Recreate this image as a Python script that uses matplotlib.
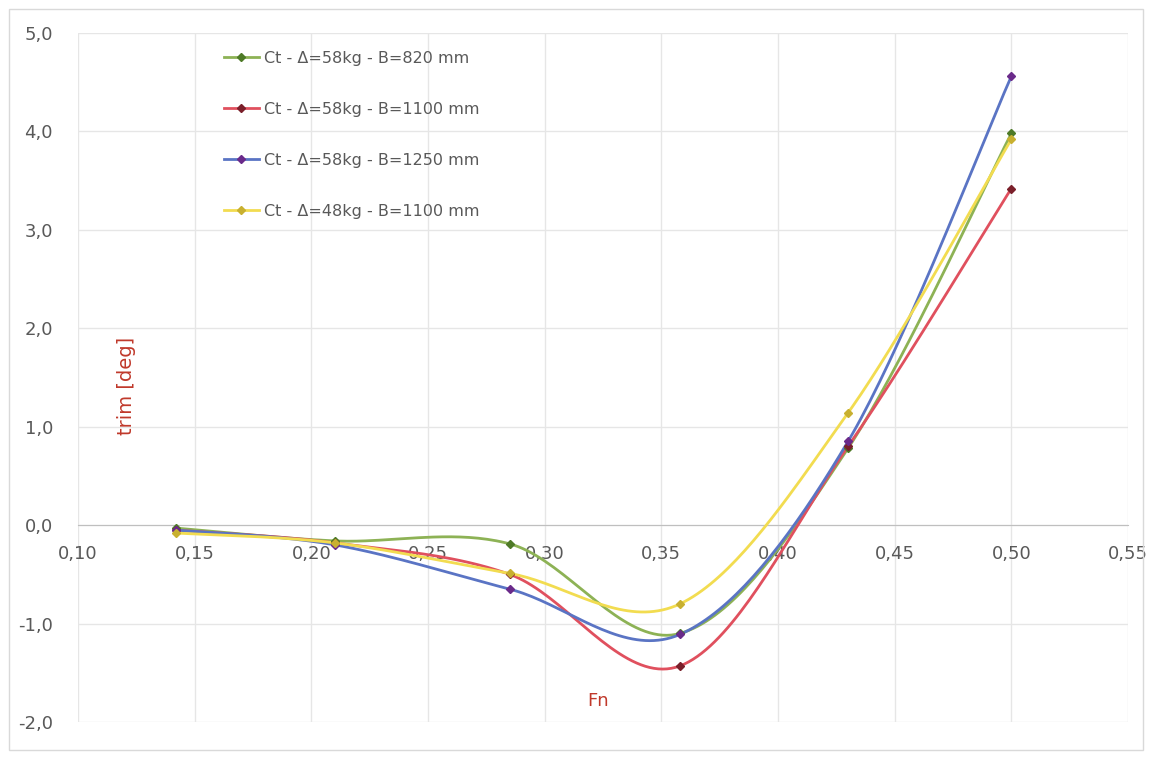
import numpy as np
import matplotlib
matplotlib.use("Agg")
import matplotlib.pyplot as plt
from matplotlib.ticker import FuncFormatter, MultipleLocator

# ---- data ----
fn = [0.142, 0.210, 0.285, 0.358, 0.430, 0.500]
trim_58_820 = [-0.03, -0.16, -0.19, -1.10, 0.78, 3.98]
trim_58_1100 = [-0.05, -0.18, -0.50, -1.43, 0.80, 3.42]
trim_58_1250 = [-0.05, -0.20, -0.65, -1.11, 0.85, 4.56]
trim_48_1100 = [-0.08, -0.18, -0.49, -0.80, 1.14, 3.92]
labels = ["Ct - \u0394=58kg - B=820 mm",
          "Ct - \u0394=58kg - B=1100 mm",
          "Ct - \u0394=58kg - B=1250 mm",
          "Ct - \u0394=48kg - B=1100 mm"]
line_colors = ["#8db255", "#e0505e", "#5a74c4", "#f2dc50"]
marker_colors = ["#4e7a27", "#7a1f2a", "#6a2a8a", "#c8b030"]


def smooth(xs, ys, n=40):
    """Excel-like smoothed line: Catmull-Rom Bezier segments."""
    P = np.column_stack([xs, ys]).astype(float)
    Pe = np.vstack([P[0], P, P[-1]])
    out = []
    t = np.linspace(0, 1, n)[:, None]
    for i in range(len(P) - 1):
        p0, p1, p2, p3 = Pe[i], Pe[i + 1], Pe[i + 2], Pe[i + 3]
        c1 = p1 + (p2 - p0) / 6.0
        c2 = p2 - (p3 - p1) / 6.0
        seg = ((1 - t) ** 3) * p1 + 3 * ((1 - t) ** 2) * t * c1 + 3 * (1 - t) * t ** 2 * c2 + t ** 3 * p2
        out.append(seg if i == 0 else seg[1:])
    out = np.vstack(out)
    return out[:, 0], out[:, 1]


fig = plt.figure(figsize=(11.52, 7.58), dpi=100)
ax = fig.add_axes([78 / 1152, 1 - 722 / 758, (1128 - 78) / 1152, (722 - 33) / 758])

series = [trim_58_820, trim_58_1100, trim_58_1250, trim_48_1100]
for ys, lab, lc, mc in zip(series, labels, line_colors, marker_colors):
    sx, sy = smooth(fn, ys)
    ax.plot(sx, sy, color=lc, lw=2.0, zorder=3)
    ax.plot(fn, ys, ls="none", marker="D", ms=4.5, color=mc, zorder=4)
    ax.plot([], [], color=lc, lw=2.0, marker="D", ms=4.5, mfc=mc, mec=mc, label=lab)

ax.set_xlim(0.10, 0.55)
ax.set_ylim(-2.0, 5.0)
ax.xaxis.set_major_locator(MultipleLocator(0.05))
ax.yaxis.set_major_locator(MultipleLocator(1.0))
ax.xaxis.set_major_formatter(FuncFormatter(lambda v, p: f"{v:.2f}".replace(".", ",")))
ax.yaxis.set_major_formatter(FuncFormatter(lambda v, p: f"{v:.1f}".replace(".", ",")))
ax.grid(True, color="#e6e6e6", lw=1.0, zorder=0)

for s in ["top", "right", "left"]:
    ax.spines[s].set_visible(False)
ax.spines["bottom"].set_position(("data", 0))
ax.spines["bottom"].set_color("#bfbfbf")
ax.tick_params(axis="both", length=0, colors="#595959", labelsize=13)
ax.tick_params(axis="y", pad=18)
ax.tick_params(axis="x", pad=14)

ax.text(0.121, 1.41, "trim [deg]", rotation=90,
        color="#c0392b", fontsize=14, ha="center", va="center")
ax.text(0.323, -1.79, "Fn", color="#c0392b", fontsize=13, ha="center", va="center")

leg = ax.legend(loc="upper left", bbox_to_anchor=(0.125, 0.995), frameon=False,
                fontsize=11.5, labelspacing=2.25, handlelength=2.2, handletextpad=0.3)
for t in leg.get_texts():
    t.set_color("#595959")

fig.patches.append(plt.Rectangle((0.008, 0.01), 0.984, 0.978, transform=fig.transFigure,
                                 fill=False, ec="#d9d9d9", lw=1.0))
fig.savefig("out.png", dpi=100)
